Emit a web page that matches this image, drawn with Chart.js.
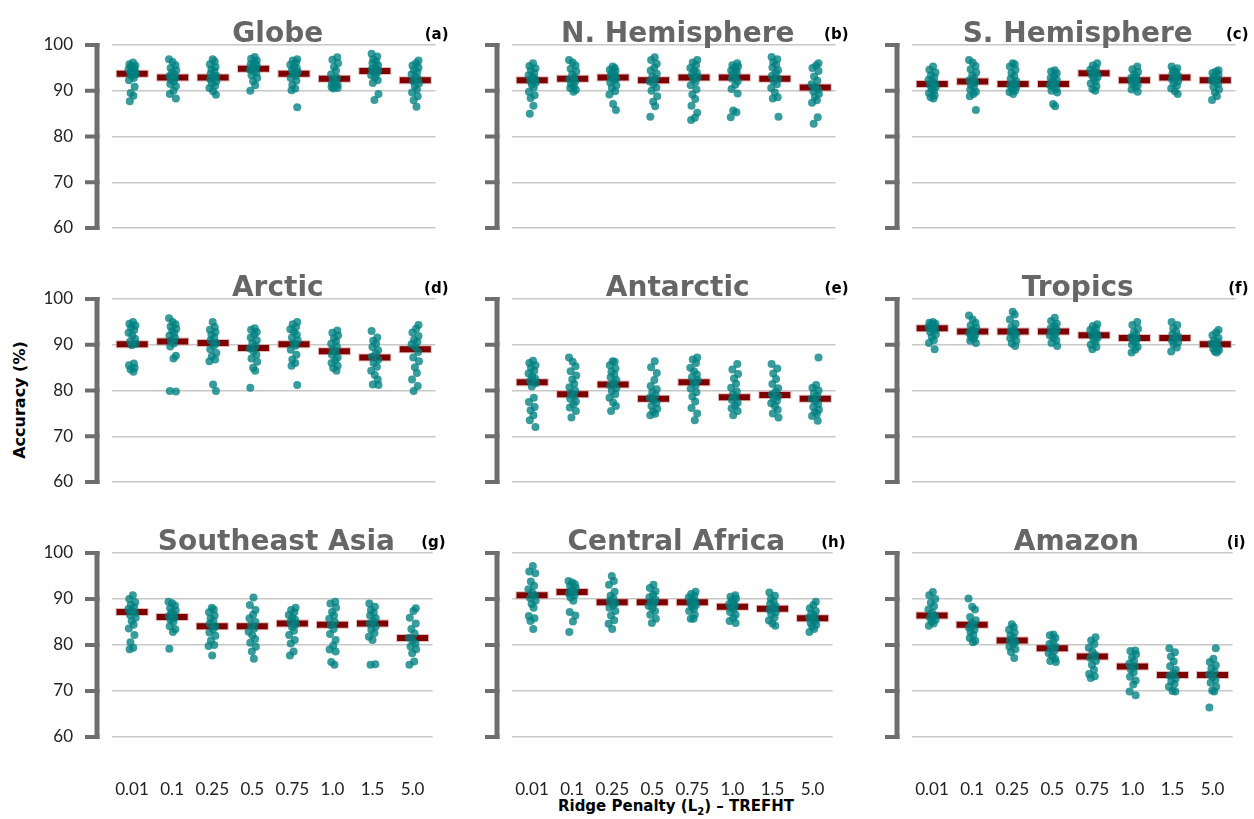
<!DOCTYPE html>
<html>
<head>
<meta charset="utf-8">
<script src="https://cdn.jsdelivr.net/npm/chart.js@4.4.0/dist/chart.umd.min.js"></script>
<style>
    body { margin: 0; width: 1254px; height: 819px; overflow: hidden; background: #fff; position: relative; }
    canvas { position: absolute; }
    #ylab { position: absolute; left: 19px; top: 400px; transform: translate(-50%, -50%) rotate(-90deg);
            font: bold 16px 'DejaVu Sans', sans-serif; color: #000; white-space: nowrap; }
    #xlab { position: absolute; left: 676px; top: 807px; transform: translate(-50%, -50%);
            font: bold 15px 'DejaVu Sans', sans-serif; color: #000; white-space: nowrap; }
    #xlab sub { font-size: 10px; }
</style>
</head>
<body>
<div id="ylab">Accuracy (%)</div>
<div id="xlab">Ridge Penalty (L<sub>2</sub>) – TREFHT</div>
<script>
// Ridge penalty categories and the y ticks
const CATS = ['0.01', '0.1', '0.25', '0.5', '0.75', '1.0', '1.5', '5.0'];
const Y_TICKS = [60, 70, 80, 90, 100];

// Accuracy (%) of each ensemble member, one list per penalty value
const GLOBE = [
    [96.2, 95.8, 95.5, 95.3, 95.0, 94.7, 94.5, 94.2, 93.9, 93.6, 93.2, 92.8, 92.3, 90.9, 89.5, 88.9, 87.7],
    [96.9, 96.3, 95.6, 95.0, 94.5, 94.0, 93.6, 93.2, 92.8, 92.4, 92.0, 91.5, 91.0, 90.0, 89.3, 88.3],
    [96.9, 96.4, 95.8, 95.2, 94.7, 94.2, 93.7, 93.3, 92.9, 92.5, 92.1, 91.6, 91.1, 90.6, 89.9, 89.1],
    [97.4, 97.0, 96.6, 96.2, 95.8, 95.5, 95.2, 94.9, 94.6, 94.3, 93.9, 93.4, 92.8, 92.1, 91.2, 90.0],
    [96.9, 96.6, 96.2, 95.7, 95.3, 94.9, 94.5, 94.1, 93.7, 93.3, 92.8, 92.2, 91.3, 90.5, 90.1, 86.4],
    [97.3, 96.8, 96.0, 95.2, 94.4, 93.6, 92.9, 92.4, 92.0, 91.6, 91.3, 91.0, 90.8, 90.6, 90.5],
    [98.1, 97.5, 96.9, 96.4, 96.0, 95.6, 95.2, 94.8, 94.5, 94.2, 93.8, 93.4, 92.9, 92.3, 91.7, 89.3, 88.0],
    [96.6, 96.0, 95.5, 95.1, 94.6, 94.1, 93.6, 93.1, 92.6, 92.1, 91.6, 91.0, 90.3, 89.6, 88.8, 87.9, 86.5]
];
const NH = [
    [96.0, 95.4, 94.9, 94.4, 93.9, 93.4, 93.0, 92.6, 92.2, 91.8, 91.3, 90.7, 89.8, 89.0, 88.4, 86.7, 85.0],
    [96.7, 96.2, 95.5, 94.8, 94.2, 93.6, 93.0, 92.5, 92.0, 91.5, 91.0, 90.6, 90.2, 89.8],
    [95.3, 95.0, 94.6, 94.3, 93.9, 93.5, 93.1, 92.7, 92.3, 91.8, 91.2, 90.6, 89.9, 89.2, 87.1, 85.8],
    [97.3, 96.7, 95.9, 95.1, 94.4, 93.7, 93.1, 92.6, 92.0, 91.4, 90.7, 90.0, 88.8, 87.6, 86.6, 84.3],
    [96.7, 96.2, 95.6, 95.0, 94.5, 94.0, 93.5, 93.0, 92.5, 91.9, 91.2, 90.3, 89.2, 88.2, 86.7, 85.2, 84.1, 83.6],
    [96.0, 95.6, 95.3, 95.0, 94.7, 94.4, 94.0, 93.6, 93.2, 92.7, 92.1, 91.3, 90.4, 89.4, 85.7, 85.3, 84.2],
    [97.4, 96.9, 96.3, 95.7, 95.1, 94.5, 93.9, 93.3, 92.7, 92.1, 91.4, 90.6, 89.6, 88.6, 88.3, 84.3],
    [96.0, 95.5, 95.0, 94.3, 93.1, 92.2, 91.4, 90.8, 90.3, 89.9, 89.3, 88.7, 87.9, 87.4, 84.2, 82.8]
];
const SH = [
    [95.3, 94.6, 94.0, 93.4, 92.9, 92.4, 92.0, 91.6, 91.2, 90.8, 90.4, 90.0, 89.5, 89.0, 88.6, 88.3],
    [96.7, 96.2, 95.4, 94.7, 94.0, 93.4, 92.8, 92.3, 91.8, 91.3, 90.8, 90.3, 89.8, 89.3, 88.8, 85.8],
    [96.0, 95.8, 95.3, 94.6, 93.9, 93.2, 92.6, 92.1, 91.6, 91.2, 90.8, 90.4, 90.0, 89.7, 89.3],
    [94.5, 94.2, 93.8, 93.3, 92.8, 92.4, 92.0, 91.6, 91.2, 90.8, 90.4, 90.0, 89.6, 87.1, 86.6],
    [96.0, 95.5, 95.0, 94.6, 94.2, 93.8, 93.4, 93.0, 92.6, 92.1, 91.6, 91.0, 90.4, 90.0],
    [95.3, 94.7, 94.1, 93.6, 93.2, 92.8, 92.5, 92.2, 91.9, 91.6, 91.2, 90.8, 90.3, 89.8],
    [95.3, 94.9, 94.5, 94.1, 93.7, 93.3, 92.9, 92.5, 92.1, 91.6, 91.1, 90.5, 89.9, 89.3],
    [94.5, 94.2, 93.9, 93.5, 93.1, 92.7, 92.3, 91.9, 91.4, 90.9, 90.3, 89.6, 88.8, 88.0]
];
const ARCTIC = [
    [95.0, 94.6, 94.2, 93.7, 93.2, 92.6, 92.0, 91.3, 90.7, 90.2, 89.9, 85.9, 85.5, 85.0, 84.6, 84.1],
    [95.8, 95.0, 94.5, 94.0, 93.5, 93.0, 92.5, 92.0, 91.5, 91.0, 90.3, 89.6, 87.6, 87.0, 79.9, 79.8],
    [95.0, 93.9, 93.3, 92.8, 92.2, 91.6, 91.0, 90.4, 89.8, 89.0, 88.2, 87.5, 86.8, 86.4, 81.3, 79.9],
    [93.6, 93.3, 92.8, 92.2, 91.6, 91.0, 90.4, 89.8, 89.2, 88.5, 87.8, 87.0, 86.3, 85.0, 84.3, 80.6],
    [95.0, 94.5, 93.9, 93.4, 92.8, 92.2, 91.6, 91.0, 90.4, 89.8, 88.9, 87.8, 86.8, 86.0, 85.4, 81.2],
    [93.1, 92.6, 92.0, 91.4, 90.8, 90.2, 89.6, 89.0, 88.4, 87.8, 87.2, 86.6, 86.0, 85.4, 84.9, 84.3],
    [93.0, 91.6, 90.9, 90.2, 89.5, 88.8, 88.1, 87.4, 86.7, 86.0, 85.2, 84.3, 83.4, 82.4, 81.3, 81.2],
    [94.3, 93.5, 92.7, 91.9, 91.1, 90.6, 90.1, 89.5, 88.4, 87.2, 86.4, 85.1, 83.8, 82.4, 81.0, 79.9]
];
const ANTARCTIC = [
    [86.5, 86.0, 85.5, 84.9, 84.3, 83.7, 83.1, 82.6, 82.1, 81.6, 80.9, 78.4, 77.5, 76.4, 75.7, 74.6, 73.5, 72.0],
    [87.2, 86.3, 85.3, 84.2, 83.3, 82.4, 81.5, 80.7, 80.0, 79.4, 78.8, 78.2, 77.6, 77.0, 76.3, 75.5, 74.1],
    [86.4, 86.3, 85.5, 84.8, 84.1, 83.5, 82.9, 82.3, 81.7, 81.1, 80.5, 79.9, 79.2, 78.4, 77.4, 76.6, 75.5],
    [86.4, 85.1, 83.8, 82.3, 81.0, 80.3, 79.6, 79.0, 78.4, 77.8, 77.2, 76.6, 76.0, 75.4, 74.9, 74.6],
    [87.2, 86.8, 86.0, 85.0, 84.2, 83.5, 82.9, 82.3, 81.7, 81.1, 80.4, 79.6, 78.7, 77.6, 76.2, 75.0, 73.5],
    [85.8, 84.6, 83.6, 82.6, 81.5, 80.6, 79.8, 79.1, 78.5, 77.9, 77.3, 76.7, 76.1, 75.5, 74.6],
    [85.8, 84.8, 83.7, 82.5, 81.4, 80.5, 79.8, 79.2, 78.7, 78.2, 77.7, 77.2, 76.6, 75.8, 75.0, 74.1],
    [87.2, 81.2, 80.6, 80.0, 79.4, 78.8, 78.2, 77.6, 77.0, 76.4, 75.8, 75.3, 74.9, 74.4, 73.4]
];
const TROPICS = [
    [95.0, 94.8, 94.6, 94.4, 94.1, 93.8, 93.5, 93.2, 92.8, 92.3, 91.7, 91.0, 90.4, 89.0],
    [96.4, 95.5, 94.8, 94.2, 93.7, 93.3, 92.9, 92.5, 92.1, 91.7, 91.3, 90.9, 90.4],
    [97.2, 96.6, 95.5, 94.6, 93.9, 93.3, 92.8, 92.3, 91.9, 91.4, 90.9, 90.3, 89.7],
    [95.9, 95.2, 94.6, 94.1, 93.6, 93.2, 92.8, 92.4, 92.0, 91.5, 91.0, 90.4, 89.7],
    [94.5, 94.1, 93.6, 93.2, 92.8, 92.4, 92.0, 91.6, 91.1, 90.6, 90.0, 89.5, 89.0],
    [95.0, 94.3, 93.5, 92.8, 92.2, 91.7, 91.3, 90.9, 90.5, 90.0, 89.5, 88.9, 88.3],
    [95.0, 94.3, 93.6, 92.9, 92.3, 91.8, 91.3, 90.9, 90.5, 90.0, 89.4, 88.5],
    [93.2, 92.7, 92.1, 91.5, 91.0, 90.6, 90.2, 89.8, 89.4, 89.1, 88.8, 88.5, 88.3]
];
const SE_ASIA = [
    [90.8, 90.0, 89.3, 88.7, 88.2, 87.8, 87.4, 87.0, 86.5, 85.9, 85.2, 84.4, 83.6, 82.2, 80.6, 79.4, 79.1],
    [89.4, 89.1, 88.6, 88.0, 87.5, 87.1, 86.7, 86.3, 85.9, 85.5, 85.0, 84.1, 83.4, 82.8, 79.2],
    [88.1, 87.7, 87.1, 86.4, 85.8, 85.2, 84.6, 84.0, 83.4, 82.7, 82.0, 81.0, 80.0, 79.8, 77.7],
    [90.3, 88.7, 87.6, 86.6, 85.8, 85.0, 84.3, 83.6, 82.9, 82.1, 81.3, 80.5, 79.6, 78.6, 77.0],
    [88.1, 87.6, 87.1, 86.5, 86.0, 85.5, 85.0, 84.5, 83.9, 83.1, 82.2, 81.1, 80.3, 78.6, 77.7],
    [89.4, 89.0, 88.1, 87.2, 86.4, 85.7, 85.0, 84.3, 83.5, 82.4, 81.1, 79.9, 79.0, 78.6, 76.3, 75.7],
    [89.0, 88.3, 87.6, 87.0, 86.4, 85.8, 85.2, 84.6, 84.0, 83.3, 82.6, 81.8, 81.1, 75.8, 75.7],
    [88.0, 87.4, 85.9, 84.7, 83.5, 82.5, 81.6, 80.9, 80.3, 79.7, 79.1, 78.2, 76.4, 75.7]
];
const C_AFRICA = [
    [97.2, 96.0, 95.6, 93.8, 92.9, 92.1, 91.4, 90.8, 90.2, 89.6, 88.9, 88.1, 86.3, 85.8, 85.2, 83.5],
    [93.9, 93.6, 93.2, 92.8, 92.4, 92.0, 91.6, 91.2, 90.8, 90.3, 89.6, 87.2, 86.4, 85.1, 82.8],
    [95.0, 93.9, 93.1, 91.6, 90.7, 90.1, 89.6, 89.1, 88.6, 88.1, 87.4, 86.4, 85.4, 84.6, 83.5],
    [93.1, 92.4, 91.7, 91.0, 90.4, 89.9, 89.4, 89.0, 88.5, 88.0, 87.4, 86.6, 85.7, 84.8],
    [91.6, 91.1, 90.7, 90.3, 89.9, 89.5, 89.1, 88.7, 88.3, 87.9, 87.4, 86.6, 85.7, 85.7],
    [90.8, 90.5, 90.1, 89.7, 89.3, 88.9, 88.5, 88.1, 87.7, 87.2, 86.6, 85.9, 85.2, 84.8],
    [91.4, 90.7, 90.0, 89.4, 88.9, 88.4, 88.0, 87.6, 87.1, 86.6, 86.0, 85.3, 84.7, 84.2],
    [89.4, 88.7, 88.0, 87.4, 86.9, 86.4, 86.0, 85.6, 85.2, 84.8, 84.4, 84.0, 83.5, 82.8]
];
const AMAZON = [
    [91.5, 90.8, 90.0, 89.2, 88.4, 87.7, 87.0, 86.4, 85.9, 85.5, 85.1, 84.7, 84.2],
    [90.1, 88.3, 87.7, 86.1, 85.4, 84.8, 84.3, 83.8, 83.3, 82.8, 82.2, 81.5, 80.9, 80.6],
    [84.5, 83.9, 83.3, 82.7, 82.1, 81.6, 81.1, 80.6, 80.1, 79.6, 79.1, 78.5, 77.2],
    [82.3, 82.1, 81.5, 80.8, 80.2, 79.7, 79.2, 78.7, 78.2, 77.6, 77.0, 76.5, 76.3],
    [81.7, 81.0, 80.2, 79.4, 78.6, 77.9, 77.2, 76.5, 75.7, 74.6, 73.7, 73.2, 72.8],
    [78.8, 78.7, 78.0, 77.3, 76.6, 75.9, 75.3, 74.7, 74.0, 73.1, 72.3, 71.4, 69.9, 69.1],
    [79.3, 78.4, 77.5, 76.4, 75.4, 74.6, 73.9, 73.3, 72.7, 72.1, 71.5, 70.9, 70.0, 69.9],
    [79.3, 77.0, 76.3, 75.6, 74.9, 74.2, 73.6, 73.0, 72.4, 71.8, 70.9, 70.1, 69.9, 66.4]
];

// Mean accuracy per penalty value (the dark red bars)
const GLOBE_MEAN = [93.7, 92.9, 92.9, 94.8, 93.7, 92.6, 94.3, 92.3];
const NH_MEAN = [92.3, 92.6, 92.9, 92.3, 92.9, 92.9, 92.6, 90.7];
const SH_MEAN = [91.5, 92.0, 91.5, 91.5, 93.8, 92.3, 92.9, 92.3];
const ARCTIC_MEAN = [90.1, 90.7, 90.4, 89.3, 90.1, 88.6, 87.2, 89.0];
const ANTARCTIC_MEAN = [81.8, 79.2, 81.3, 78.2, 81.8, 78.5, 79.0, 78.2];
const TROPICS_MEAN = [93.6, 92.9, 92.9, 92.9, 92.1, 91.5, 91.5, 90.1];
const SE_ASIA_MEAN = [87.2, 86.1, 84.1, 84.1, 84.7, 84.4, 84.7, 81.5];
const C_AFRICA_MEAN = [90.8, 91.5, 89.3, 89.3, 89.3, 88.3, 87.9, 85.8];
const AMAZON_MEAN = [86.4, 84.4, 81.0, 79.3, 77.5, 75.3, 73.5, 73.5];

const TITLES = ['Globe', 'N. Hemisphere', 'S. Hemisphere', 'Arctic', 'Antarctic', 'Tropics',
                'Southeast Asia', 'Central Africa', 'Amazon'];
const LETTERS = ['(a)', '(b)', '(c)', '(d)', '(e)', '(f)', '(g)', '(h)', '(i)'];
const POINTS = [GLOBE, NH, SH, ARCTIC, ANTARCTIC, TROPICS, SE_ASIA, C_AFRICA, AMAZON];
const MEANS = [GLOBE_MEAN, NH_MEAN, SH_MEAN, ARCTIC_MEAN, ANTARCTIC_MEAN, TROPICS_MEAN,
               SE_ASIA_MEAN, C_AFRICA_MEAN, AMAZON_MEAN];

// small fixed horizontal spread for the strip plot
const JITTER = [0.02, -0.07, 0.08, -0.03, 0.05, -0.09, 0.0, 0.07, -0.05, 0.09, -0.01, 0.04, -0.08, 0.06, -0.04, 0.03, -0.06, 0.08];

// bracket axis, y labels, panel title and letter
const decor = {
    id: 'decor',
    afterDraw(chart, args, opts) {
        const { ctx, chartArea: a, scales: { y } } = chart;
        const top = y.getPixelForValue(100), bot = y.getPixelForValue(60);
        const bx = a.left - 15;
        ctx.save();
        ctx.strokeStyle = '#6e6e6e';
        ctx.lineWidth = 5;
        ctx.beginPath();
        ctx.moveTo(bx, top - 2);
        ctx.lineTo(bx, bot + 2);
        ctx.stroke();
        ctx.lineWidth = 4;
        ctx.beginPath();
        Y_TICKS.forEach(t => {
            const py = y.getPixelForValue(t);
            ctx.moveTo(a.left - 27, py);
            ctx.lineTo(bx + 2.5, py);
        });
        ctx.stroke();

        if (opts.yLabels) {
            ctx.fillStyle = '#222';
            ctx.font = '17px Lato';
            ctx.textAlign = 'right';
            ctx.textBaseline = 'middle';
            Y_TICKS.forEach(t => ctx.fillText(String(t), a.left - 39, y.getPixelForValue(t)));
        }

        ctx.textBaseline = 'alphabetic';
        ctx.fillStyle = '#666';
        ctx.font = 'bold 28px "DejaVu Sans"';
        ctx.textAlign = 'center';
        ctx.fillText(opts.title, (a.left + a.right) / 2 + 4, a.top - 3);

        ctx.fillStyle = '#000';
        ctx.font = 'bold 15px "DejaVu Sans"';
        ctx.textAlign = 'right';
        ctx.fillText(opts.letter, a.right + 13, a.top - 6);
        ctx.restore();
    }
};

TITLES.forEach((title, p) => {
    const row = Math.floor(p / 3), col = p % 3;
    const bottomRow = row === 2;
    const canvas = document.createElement('canvas');
    canvas.width = 420;
    canvas.height = bottomRow ? 311 : 254;
    canvas.style.left = (40 + 400 * col) + 'px';
    canvas.style.top = (254 * row) + 'px';
    document.body.appendChild(canvas);

    const pts = POINTS[p].flatMap((vals, i) =>
        vals.map((v, k) => ({ x: i + JITTER[(k + i * 5) % JITTER.length], y: v })));
    const means = MEANS[p].map((v, i) => ({ x: i, y: v }));

    new Chart(canvas.getContext('2d'), {
        type: 'scatter',
        data: {
            datasets: [
                { data: pts, order: 0, pointRadius: 4, pointBorderWidth: 0,
                  pointBackgroundColor: 'rgba(0,128,128,0.78)' },
                { data: means, order: 1, pointStyle: 'line', pointRadius: 15.5, pointBorderWidth: 6,
                  pointBorderColor: '#7f0000', pointBackgroundColor: '#7f0000' },
                { data: means, order: 2, pointStyle: 'line', pointRadius: 16.5, pointBorderWidth: 8,
                  pointBorderColor: 'rgba(215,160,160,0.7)', pointBackgroundColor: 'rgba(215,160,160,0.7)' }
            ]
        },
        options: {
            responsive: false,
            animation: false,
            layout: { padding: { left: 72, right: 23, top: 45, bottom: bottomRow ? 22 : 26 } },
            plugins: {
                legend: { display: false },
                tooltip: { enabled: false },
                decor: { title, letter: LETTERS[p], yLabels: col === 0 }
            },
            scales: {
                x: {
                    type: 'linear', min: -0.5, max: 7.5,
                    display: bottomRow,
                    afterBuildTicks: s => { s.ticks = CATS.map((c, i) => ({ value: i })); },
                    afterFit: s => { s.height = bottomRow ? 60 : 0; },
                    ticks: { callback: v => CATS[v], font: { family: 'Lato', size: 17 }, color: '#222',
                             padding: 34, maxRotation: 0, autoSkip: false },
                    grid: { display: false },
                    border: { display: false }
                },
                y: {
                    min: 60, max: 100,
                    afterFit: s => { s.width = 0; },
                    ticks: { display: false, stepSize: 10 },
                    grid: { color: '#c8c8c8', lineWidth: 1.5, drawTicks: false },
                    border: { display: false }
                }
            }
        },
        plugins: [decor]
    });
});
</script>
</body>
</html>
